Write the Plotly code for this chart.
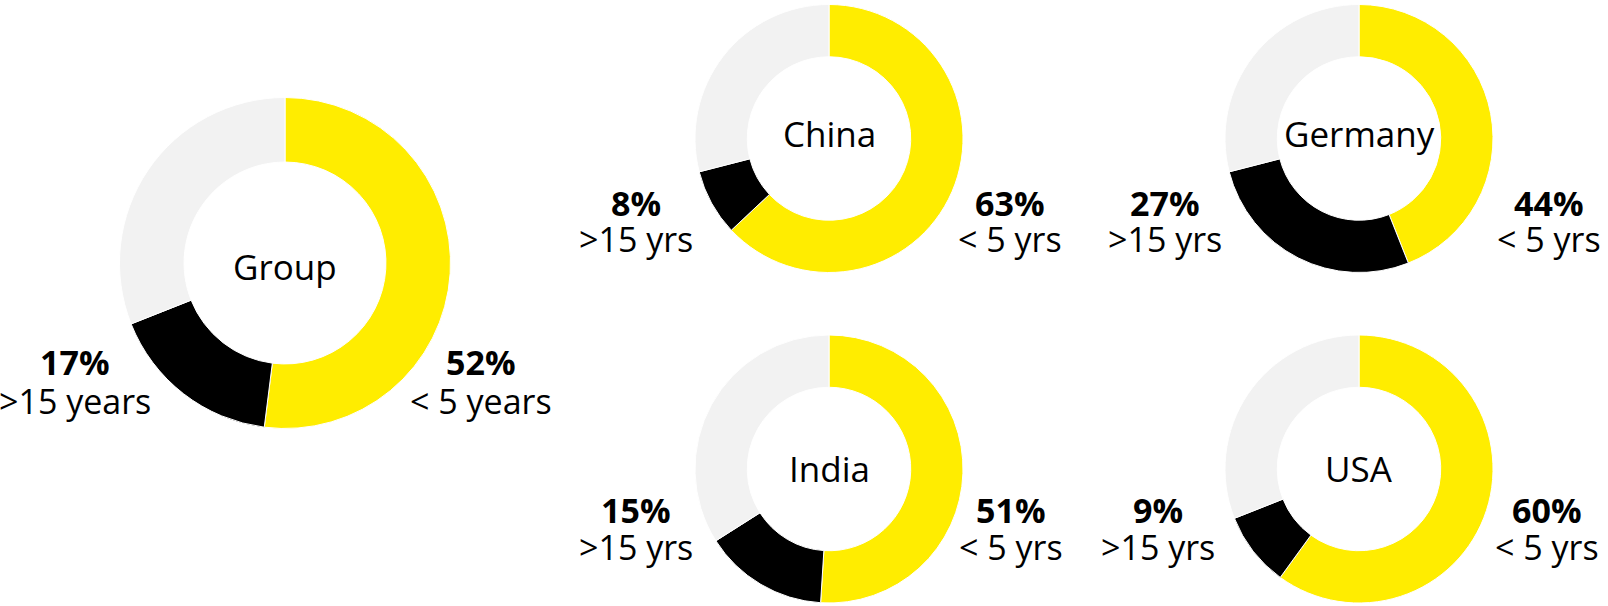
import plotly.graph_objects as go

W, H = 1608, 606

# slice order: < 5 years, > 15 years, 5-15 years (the rest)
regions = ["Group", "China", "Germany", "India", "USA"]
share_under5 = [52, 63, 44, 51, 60]
share_over15 = [17, 8, 27, 15, 9]
share_middle = [31, 29, 29, 34, 31]
short_labels = ["< 5 years", "< 5 yrs", "< 5 yrs", "< 5 yrs", "< 5 yrs"]
long_labels = [">15 years", ">15 yrs", ">15 yrs", ">15 yrs", ">15 yrs"]

colors = ["#FFED00", "#000000", "#F2F2F2"]
FONT = "Open Sans"

# donut centre / radius / name y in pixels, and label anchor points
layout_px = {
    "Group":   dict(cx=285, cy=263, r=165.5, ny=266.5, right=(481, 362, 401), left=(75, 362, 401)),
    "China":   dict(cx=829, cy=138.5, r=134, ny=133.5, right=(1010, 203, 239), left=(636, 203, 239)),
    "Germany": dict(cx=1359, cy=138.5, r=134, ny=133.5, right=(1549, 203, 239), left=(1165, 203, 239)),
    "India":   dict(cx=829, cy=469, r=134, ny=468, right=(1011, 510, 547), left=(636, 510, 547)),
    "USA":     dict(cx=1359, cy=469, r=134, ny=468, right=(1547, 510, 547), left=(1158, 510, 547)),
}


def px(x):
    return x / W


def py(y):
    return 1 - y / H


fig = go.Figure()
annotations = []

for i, name in enumerate(regions):
    g = layout_px[name]
    fig.add_trace(go.Pie(
        values=[share_under5[i], share_over15[i], share_middle[i]],
        labels=["< 5", "> 15", "5-15"],
        marker=dict(colors=colors, line=dict(color="white", width=1)),
        hole=0.61,
        sort=False,
        direction="clockwise",
        rotation=0,
        textinfo="none",
        hoverinfo="label+percent",
        showlegend=False,
        domain=dict(x=[px(g["cx"] - g["r"]), px(g["cx"] + g["r"])],
                    y=[py(g["cy"] + g["r"]), py(g["cy"] - g["r"])]),
    ))
    annotations.append(dict(text=name, x=px(g["cx"]), y=py(g["ny"]),
                            font=dict(size=35, color="black", family=FONT)))
    rx, ry1, ry2 = g["right"]
    lx, ly1, ly2 = g["left"]
    annotations += [
        dict(text=f"<b>{share_under5[i]}%</b>", x=px(rx), y=py(ry1),
             font=dict(size=34, color="black", family=FONT)),
        dict(text=short_labels[i], x=px(rx), y=py(ry2),
             font=dict(size=34, color="black", family=FONT)),
        dict(text=f"<b>{share_over15[i]}%</b>", x=px(lx), y=py(ly1),
             font=dict(size=34, color="black", family=FONT)),
        dict(text=long_labels[i], x=px(lx), y=py(ly2),
             font=dict(size=34, color="black", family=FONT)),
    ]

for a in annotations:
    a.update(xref="paper", yref="paper", showarrow=False,
             xanchor="center", yanchor="middle")

fig.update_layout(
    width=W, height=H,
    margin=dict(l=0, r=0, t=0, b=0),
    paper_bgcolor="white",
    plot_bgcolor="white",
    annotations=annotations,
)

# drop the browser's default 8px body margin so the figure sits at 0,0
fig.write_html("out.html",
               config={"displayModeBar": False},
               post_script="document.body.style.margin='0';document.body.style.overflow='hidden';")
